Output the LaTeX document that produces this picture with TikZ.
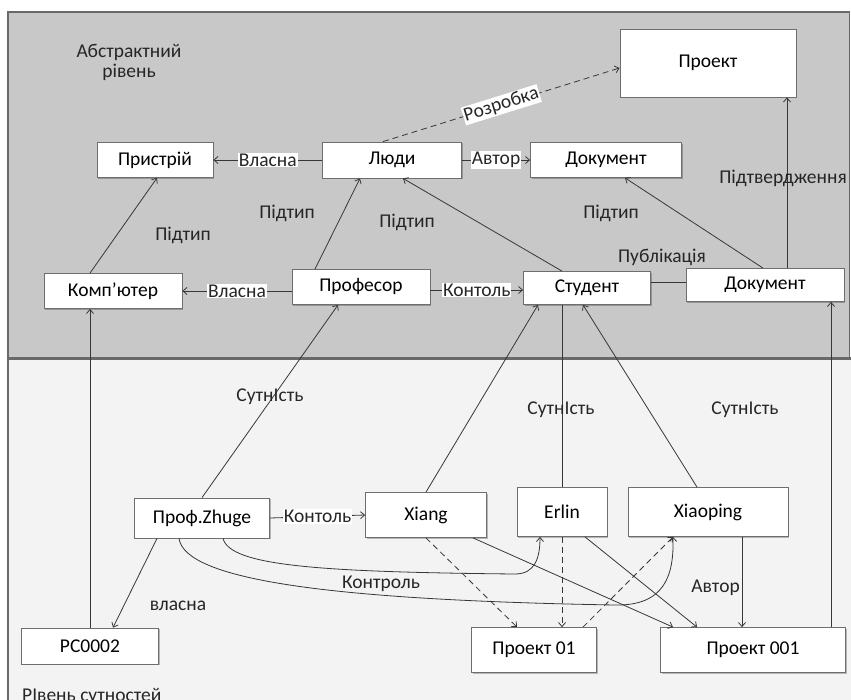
\documentclass[tikz,border=0pt]{standalone}
\usepackage{fontspec}
\setmainfont{Carlito}
\usetikzlibrary{arrows.meta,shadows}
\definecolor{panelgray}{RGB}{200,200,200}
\definecolor{panellight}{RGB}{243,243,243}
\definecolor{panelborder}{RGB}{105,105,105}
\definecolor{linecol}{RGB}{55,55,55}
\definecolor{boxborder}{RGB}{110,110,110}
\tikzset{
  box/.style={draw=boxborder, line width=0.8pt, fill=white, inner sep=0pt,
    font=\fontsize{19.5}{22}\selectfont,
    drop shadow={shadow xshift=1.2pt,shadow yshift=-1.2pt,fill=black,opacity=0.25}},
  lbl/.style={font=\fontsize{19.5}{22}\selectfont, inner sep=1pt, text=black!85},
  wlbl/.style={lbl, fill=white},
  conn/.style={draw=linecol, line width=0.8pt, -{Straight Barb[length=4pt,width=7pt]}},
  plain/.style={draw=linecol, line width=0.8pt},
  dconn/.style={conn, dash pattern=on 6pt off 4pt},
}
\begin{document}
\begin{tikzpicture}[x=1pt,y=-1pt]
\useasboundingbox (0,0) rectangle (851,699);
\fill[white] (0,0) rectangle (851,699);
% panels
\fill[panellight] (8,358) rectangle (851,702);
\draw[panelborder, line width=1.2pt] (8,358) -- (8,702);
\filldraw[fill=panelgray, draw=panelborder, line width=1.2pt] (8,12) rectangle (849.5,358);
\draw[panelborder, line width=3pt] (8,358) -- (851,358);

\node[lbl, align=center] (abs) at (129,62) {Абстрактний\\[-2pt]рівень};
\node[lbl, anchor=base west] (ent) at (21,701) {РІвень сутностей};

% abstract nodes
\node[box, minimum width=176pt, minimum height=68pt] (proekt) at (708,63) {Проект};
\node[box, minimum width=116pt, minimum height=35pt] (pr) at (155,160) {Пристрій};
\node[box, minimum width=139pt, minimum height=36pt] (lyudy) at (392,160) {Люди};
\node[box, minimum width=151pt, minimum height=35pt] (doc1) at (606,160) {Документ};
\node[box, minimum width=138pt, minimum height=35pt] (komp) at (113,291) {Комп’ютер};
\node[box, minimum width=138pt, minimum height=35pt] (prof) at (361,287) {Професор};
\node[box, minimum width=127pt, minimum height=33pt] (stud) at (587,288) {Студент};
\node[box, minimum width=158pt, minimum height=33pt] (doc2) at (765,285) {Документ};

% entity nodes
\node[box, minimum width=135pt, minimum height=40pt] (zhuge) at (202,518) {Проф.Zhuge};
\node[box, minimum width=121pt, minimum height=45pt] (xiang) at (426,515) {Xiang};
\node[box, minimum width=90pt, minimum height=49pt] (erlin) at (562,512) {Erlin};
\node[box, minimum width=160pt, minimum height=49pt] (xiao) at (708,512) {Xiaoping};
\node[box, minimum width=137pt, minimum height=36pt] (pc) at (90,646) {PC0002};
\node[box, minimum width=125pt, minimum height=45pt] (p01) at (534,650) {Проект 01};
\node[box, minimum width=185pt, minimum height=45pt] (p001) at (753,650) {Проект 001};

% abstract connectors
\draw[dconn] ([xshift=-9pt]lyudy.north) -- node[wlbl, sloped, pos=0.5] (lrozr) {Розробка} ([yshift=-5pt]proekt.west);
\draw[conn] (lyudy.west) -- node[wlbl] (lvl1) {Власна} (pr.east);
\draw[conn] (lyudy.east) -- node[wlbl] (lavt1) {Автор} (doc1.west);
\draw[conn] ([xshift=-23pt]komp.north) -- ([xshift=2pt]pr.south);
\node[lbl] (lpt1) at (183,235) {Підтип};
\draw[conn] ([xshift=-46pt]prof.north) -- ([xshift=-32pt]lyudy.south);
\node[lbl] (lpt2) at (287,213) {Підтип};
\draw[conn] ([xshift=-25pt]stud.north) -- ([xshift=11pt]lyudy.south);
\node[lbl] (lpt3) at (407,222) {Підтип};
\draw[conn] ([xshift=-2pt]doc2.north) -- ([xshift=19pt]doc1.south);
\node[lbl] (lpt4) at (611,213) {Підтип};
\draw[plain] ([yshift=6pt]stud.east) -- ([yshift=3pt]doc2.west);
\node[lbl] (lpub) at (662,257) {Публікація};
\draw[conn] ([xshift=22pt]doc2.north) -- ([xshift=79pt]proekt.south);
\node[lbl] (lpidt) at (783,178) {Підтвердження};
\draw[conn] ([yshift=-4pt]prof.west) -- node[wlbl] (lvl2) {Власна} (komp.east);
\draw[conn] ([yshift=-3pt]prof.east) -- node[wlbl] (lkon1) {Контоль} ([yshift=-2pt]stud.west);

% entity -> abstract
\draw[conn] (zhuge.north) -- ([xshift=-23pt]prof.south);
\node[lbl] (ls1) at (270,397) {СутнІсть};
\draw[conn] (xiang.north) -- ([xshift=-49pt]stud.south);
\draw[plain] (erlin.north) -- ([xshift=-25pt]stud.south);
\node[lbl] (ls2) at (561,410) {СутнІсть};
\draw[conn] ([xshift=-11pt]xiao.north) -- ([xshift=-4pt]stud.south);
\node[lbl] (ls3) at (745,410) {СутнІсть};
\draw[conn] ([xshift=78pt]p001.north) -- ([xshift=66pt]doc2.south);
\draw[conn] (pc.north) -- ([xshift=-23pt]komp.south);

% entity level
\draw[conn] ([xshift=-45pt]zhuge.south) -- ([xshift=23pt]pc.north);
\node[lbl] (lvl3) at (178,606) {власна};
\draw[conn] (zhuge.east) -- node[wlbl] (lkon2) {Контоль} (xiang.west);
\draw[conn] ([xshift=21pt]zhuge.south) .. controls (230,566) and (320,572) .. (515,574)
  .. controls (535,574) and (540,558) .. ([xshift=-22pt]erlin.south);
\draw[conn] ([xshift=-23pt]zhuge.south) .. controls (185,580) and (330,600) .. (615,605)
  .. controls (665,606) and (674,575) .. ([xshift=-35pt]xiao.south);
\node[lbl] (lkontr) at (381,584) {Контроль};
\draw[dconn] (xiang.south) -- ([xshift=-17pt]p01.north);
\draw[dconn] (erlin.south) -- ([xshift=28pt]p01.north);
\draw[dconn] ([xshift=49pt]p01.north) -- ([xshift=-35pt]xiao.south);
\draw[conn] ([xshift=47pt]xiang.south) -- ([xshift=-80pt]p001.north);
\draw[conn] ([xshift=23pt]erlin.south) -- ([xshift=-56pt]p001.north);
\draw[conn] ([xshift=34pt]xiao.south) -- ([xshift=-11pt]p001.north);
\node[lbl, anchor=east] (lavt2) at (741,588) {Автор};
\end{tikzpicture}
\end{document}
